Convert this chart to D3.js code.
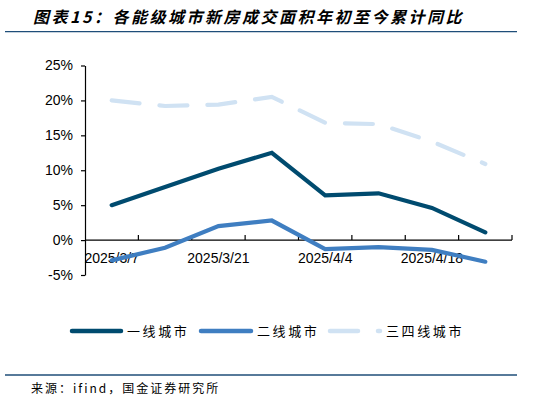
<!DOCTYPE html>
<html><head><meta charset="utf-8">
<script src="https://cdn.jsdelivr.net/npm/d3@7"></script>
<style>
html,body{margin:0;padding:0;background:#fff;}
svg{display:block;}
</style></head>
<body>
<svg id="c" width="559" height="403"></svg>
<script>
const categories = ["2025/3/7","2025/3/14","2025/3/21","2025/3/28","2025/4/4","2025/4/11","2025/4/18","2025/4/25"];
const tier1 = [5.0, 7.6, 10.2, 12.5, 6.4, 6.7, 4.6, 1.1];
const tier2 = [-2.9, -1.1, 2.0, 2.8, -1.3, -1.0, -1.4, -3.1];
const tier34 = [20.0, 19.2, 19.4, 20.5, 16.8, 16.6, 14.1, 10.9];
const seriesNames = ["一线城市","二线城市","三四线城市"];
const yTicks = [-5, 0, 5, 10, 15, 20, 25];
const xLabelCats = ["2025/3/7","2025/3/21","2025/4/4","2025/4/18"];
const title = "图表15：各能级城市新房成交面积年初至今累计同比";
const source = "来源：ifind，国金证券研究所";

const colors = ["#004B6F", "#3F7EC1", "#D0E2F3"];
const svg = d3.select("#c");
const X0 = 85, X1 = 512, Y0 = 275, Y1 = 65.5;

const x = d3.scaleBand().domain(categories).range([X0, X1]).padding(0);
const y = d3.scaleLinear().domain([-5, 25]).range([Y0, Y1]);
const cx = d => x(d) + x.bandwidth() / 2;

// title
svg.append("text").attr("x", 33).attr("y", 23)
  .attr("font-family", "'Noto Sans CJK SC', sans-serif")
  .attr("font-size", 16).attr("font-weight", "bold").attr("font-style", "italic")
  .attr("letter-spacing", 2.5).attr("fill", "#000").text(title);
svg.append("line").attr("x1", 5).attr("x2", 517).attr("y1", 31.7).attr("y2", 31.7)
  .attr("stroke", "#1F4E79").attr("stroke-width", 1.3);
svg.append("line").attr("x1", 5).attr("x2", 517).attr("y1", 375).attr("y2", 375)
  .attr("stroke", "#1F4E79").attr("stroke-width", 1.3);
svg.append("text").attr("x", 31).attr("y", 393)
  .attr("font-family", "'Noto Sans CJK SC', sans-serif")
  .attr("font-size", 12).attr("letter-spacing", 2).attr("fill", "#000").text(source);

// y axis
const yAxis = d3.axisLeft(y).tickValues(yTicks).tickSize(4).tickSizeOuter(0)
  .tickFormat(d => d + "%");
const gy = svg.append("g").attr("transform", `translate(${X0},0)`).call(yAxis);
gy.select(".domain").attr("stroke", "#000").attr("stroke-width", 1.2);
gy.selectAll(".tick line").attr("stroke", "#000").attr("stroke-width", 1.2);
gy.selectAll(".tick text").attr("font-family", "'Liberation Sans', Arial, sans-serif")
  .attr("font-size", 14).attr("fill", "#000").attr("x", -12);

// x axis at 0
const y0 = y(0);
svg.append("line").attr("x1", X0).attr("x2", X1).attr("y1", y0).attr("y2", y0)
  .attr("stroke", "#000").attr("stroke-width", 1.2);
const bounds = categories.slice(1).map(c => x(c)).concat([X1]);
svg.append("g").selectAll("line").data(bounds).join("line")
  .attr("x1", d => d).attr("x2", d => d).attr("y1", y0).attr("y2", y0 - 5)
  .attr("stroke", "#000").attr("stroke-width", 1.2);
svg.append("g").selectAll("text").data(xLabelCats).join("text")
  .attr("x", d => cx(d)).attr("y", 263).attr("text-anchor", "middle")
  .attr("font-family", "'Liberation Sans', Arial, sans-serif").attr("font-size", 14)
  .attr("fill", "#000").text(d => d);

// lines
const allSeries = [tier1, tier2, tier34];
const line = d3.line().x((d, i) => cx(categories[i])).y(d => y(d));
allSeries.forEach((s, k) => {
  const p = svg.append("path").datum(s).attr("d", line).attr("fill", "none")
    .attr("stroke", colors[k]).attr("stroke-width", 4.2)
    .attr("stroke-linejoin", "miter").attr("stroke-linecap", "round");
  if (k === 2) p.attr("stroke-dasharray", "28,20");
});

// legend
const ly = 331;
const legendItems = [
  {x1: 72, x2: 121, tx: 127},
  {x1: 201, x2: 251, tx: 257},
  {x1: 330, x2: 380, tx: 386}
];
legendItems.forEach((it, k) => {
  const l = svg.append("line").attr("x1", it.x1).attr("x2", it.x2).attr("y1", ly).attr("y2", ly)
    .attr("stroke", colors[k]).attr("stroke-width", 4.5).attr("stroke-linecap", "round");
  if (k === 2) l.attr("stroke-dasharray", "28,20");
  svg.append("text").attr("x", it.tx).attr("y", ly + 5)
    .attr("font-family", "'Noto Sans CJK SC', sans-serif").attr("font-size", 13)
    .attr("letter-spacing", 2.6).attr("fill", "#000").text(seriesNames[k]);
});
</script>
</body></html>
